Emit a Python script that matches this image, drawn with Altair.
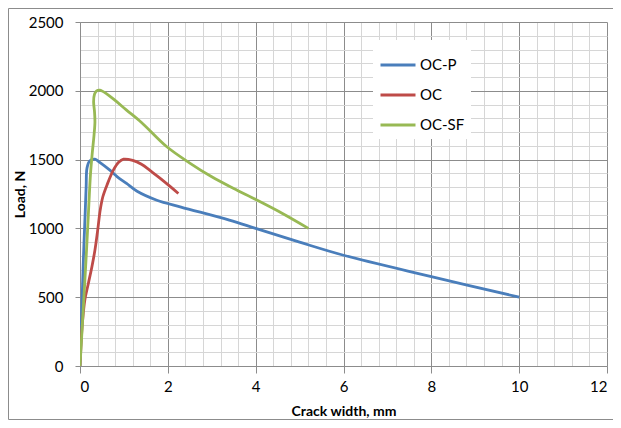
import altair as alt
import pandas as pd

series_names = ["OC-P", "OC", "OC-SF"]
series_colors = ["#4A7EBB", "#BE4B48", "#98B954"]

ocp_x = [0, 0.04, 0.08, 0.12, 0.14, 0.16, 0.22, 0.34, 0.45, 0.68, 0.85, 1.06, 1.3, 1.75, 2.3, 3.4, 4, 5, 6, 8, 10]
ocp_y = [0, 400, 800, 1130, 1300, 1440, 1490, 1503, 1480, 1423, 1375, 1327, 1270, 1205, 1155, 1060, 1000, 900, 805, 650, 500]

oc_x = [0, 0.04, 0.08, 0.11, 0.19, 0.27, 0.34, 0.4, 0.46, 0.52, 0.62, 0.76, 0.88, 0.99, 1.2, 1.4, 1.6, 1.82, 2.05, 2.24]
oc_y = [0, 250, 400, 480, 600, 720, 842, 980, 1133, 1230, 1320, 1423, 1480, 1503, 1494, 1466, 1420, 1365, 1305, 1254]

ocsf_x = [0, 0.05, 0.1, 0.15, 0.19, 0.24, 0.28, 0.32, 0.34, 0.33, 0.31, 0.33, 0.38, 0.45, 0.6, 0.8, 1.06, 1.4, 1.97, 2.5, 3.0, 3.5, 4.0, 4.6, 5.2]
ocsf_y = [0, 280, 560, 850, 1100, 1400, 1550, 1680, 1774, 1850, 1920, 1975, 2000, 2005, 1980, 1930, 1860, 1770, 1595, 1475, 1375, 1290, 1210, 1110, 1000]

x_ticks = [0, 0.4, 0.8, 1.2, 1.6, 2, 2.4, 2.8, 3.2, 3.6, 4, 4.4, 4.8, 5.2, 5.6, 6,
           6.4, 6.8, 7.2, 7.6, 8, 8.4, 8.8, 9.2, 9.6, 10, 10.4, 10.8, 11.2, 11.6, 12]
y_ticks = [0, 100, 200, 300, 400, 500, 600, 700, 800, 900, 1000, 1100, 1200, 1300,
           1400, 1500, 1600, 1700, 1800, 1900, 2000, 2100, 2200, 2300, 2400, 2500]

rows = []
for name, xs, ys in [("OC-P", ocp_x, ocp_y), ("OC", oc_x, oc_y), ("OC-SF", ocsf_x, ocsf_y)]:
    for i, (xv, yv) in enumerate(zip(xs, ys)):
        rows.append({"series": name, "x": xv, "y": yv, "idx": i})
df = pd.DataFrame(rows)

FONT = "Lato"
x_major = "datum.value % 2 === 0"
y_major = "datum.value % 500 === 0"

lines = alt.Chart(df).mark_line(strokeWidth=2.8, interpolate="catmull-rom", clip=True).encode(
    x=alt.X("x:Q", scale=alt.Scale(domain=[0, 12], nice=False),
            axis=alt.Axis(values=x_ticks, title="Crack width, mm",
                          grid=True, labelOverlap=False, labelBound=False,
                          gridColor={"condition": {"test": x_major, "value": "#8c8c8c"}, "value": "#d6d6d6"},
                          tickOpacity={"condition": {"test": x_major, "value": 1}, "value": 0},
                          labelExpr="datum.value % 2 === 0 ? format(datum.value, 'd') : ''",
                          tickSize=7, tickColor="#8c8c8c", domainColor="#8c8c8c",
                          labelPadding=6, titleY=45, titleBaseline="middle")),
    y=alt.Y("y:Q", scale=alt.Scale(domain=[0, 2500], nice=False),
            axis=alt.Axis(values=y_ticks, title="Load, N",
                          grid=True, labelOverlap=False, labelBound=False,
                          gridColor={"condition": {"test": y_major, "value": "#8c8c8c"}, "value": "#d6d6d6"},
                          tickOpacity={"condition": {"test": y_major, "value": 1}, "value": 0},
                          labelExpr="datum.value % 500 === 0 ? format(datum.value, 'd') : ''",
                          tickSize=5, tickColor="#8c8c8c", domainColor="#8c8c8c",
                          labelPadding=12, titleX=-60, titleY=172, titleAngle=-90,
                          titleAlign="center", titleBaseline="middle")),
    color=alt.Color("series:N", scale=alt.Scale(domain=series_names, range=series_colors),
                    legend=alt.Legend(orient="none", legendX=293, legendY=18, title=None,
                                      fillColor="white", padding=6,
                                      symbolType="stroke", symbolSize=1225, symbolStrokeWidth=3,
                                      labelFont=FONT, labelFontSize=15, labelColor="#000000",
                                      labelOffset=3, rowPadding=3)),
    order="idx:Q",
)

frame = alt.Chart(pd.DataFrame({"a": [0]})).mark_rect(fill=None, stroke="#8c8c8c", strokeWidth=1).encode(
    x=alt.value(-71.5), x2=alt.value(600), y=alt.value(-13.5), y2=alt.value(397.5)
)

chart = alt.layer(lines, frame).properties(
    width=527, height=344,
    autosize=alt.AutoSizeParams(type="none"),
    padding={"left": 72, "top": 14, "right": 6, "bottom": 54},
).configure_axis(
    labelFont=FONT, labelFontSize=15, labelColor="#000000",
    titleFont=FONT, titleFontSize=14, titleFontWeight="bold", titleColor="#000000",
).configure_view(stroke=None)

chart.save("out.html", embed_options={"renderer": "svg", "actions": False})
